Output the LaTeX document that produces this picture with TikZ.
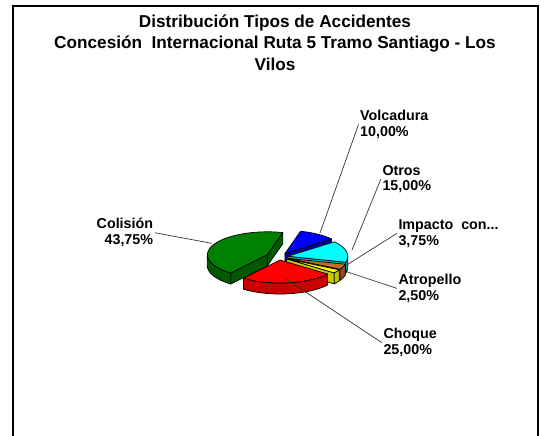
\documentclass[tikz,border=0pt]{standalone}
\usepackage{fontspec}
\setmainfont{Liberation Sans}
\definecolor{pblue}{RGB}{0,0,255}\definecolor{pblueS}{RGB}{0,0,165}
\definecolor{pcyan}{RGB}{0,255,255}\definecolor{pcyanS}{RGB}{0,185,185}
\definecolor{pbrown}{RGB}{205,105,40}\definecolor{pbrownS}{RGB}{150,75,25}
\definecolor{pyel}{RGB}{255,255,0}\definecolor{pyelS}{RGB}{200,200,0}
\definecolor{pred}{RGB}{255,0,0}\definecolor{predS}{RGB}{205,0,0}
\definecolor{pgreen}{RGB}{0,128,0}\definecolor{pgreenS}{RGB}{0,90,0}
\tikzset{
  lbl/.style={font=\bfseries\fontsize{14.3}{15.8}\selectfont,inner sep=1.5pt},
  leader/.style={draw=black!80,line width=0.7pt},
  face/.style={draw=black,line width=0.7pt,line join=round}
}
\begin{document}
\begin{tikzpicture}[x=1pt,y=1pt]
\useasboundingbox (0,0) rectangle (541,436);
    \draw[line width=1.8pt](13,0)--(13,430)--(538,430)--(538,0);
    \node[font=\bfseries\fontsize{17.2}{21.5}\selectfont,align=center](title) at (275,393.5)
      {Distribución Tipos de Accidentes\\Concesión\ \ Internacional Ruta 5 Tramo Santiago - Los\\Vilos};

% pie: start/end angle, explode, top colour, side colour
\def\rx{60}\def\ry{23}\def\dep{11}
\foreach \a/\b/\e/\ct/\cs in {39/75/11/pblue/pblueS,-15/39/9/pcyan/pcyanS,
    -285/-127.5/13/pgreen/pgreenS,-28.5/-15/9/pbrown/pbrownS,
    -37.5/-28.5/9/pyel/pyelS,-127.5/-37.5/8/pred/predS}{
  \pgfmathsetmacro\m{(\a+\b)/2}
  \pgfmathsetmacro\ey{0.383*\e}
  \path (279,179) ++(\m:\e pt and \ey pt) coordinate (o);
  \path (o) ++(\a:\rx pt and \ry pt) coordinate (pa);
  \path (o) ++(\b:\rx pt and \ry pt) coordinate (pb);
  \pgfmathtruncatemacro\va{sin(\a-90)<0}
  \pgfmathtruncatemacro\vb{sin(\b+90)<0}
  \ifnum\va=1 \filldraw[face,fill=\cs](o)--(pa)--([yshift=-\dep pt]pa)--([yshift=-\dep pt]o)--cycle;\fi
  \ifnum\vb=1 \filldraw[face,fill=\cs](o)--(pb)--([yshift=-\dep pt]pb)--([yshift=-\dep pt]o)--cycle;\fi
  \pgfmathsetmacro\lo{max(\a,-180)}
  \pgfmathsetmacro\hi{min(\b,0)}
  \pgfmathtruncatemacro\vo{\hi>\lo}
  \ifnum\vo=1 \filldraw[face,fill=\cs](o) ++(\lo:\rx pt and \ry pt)
      arc[start angle=\lo,end angle=\hi,x radius=\rx pt,y radius=\ry pt]--++(0,-\dep)
      arc[start angle=\hi,end angle=\lo,x radius=\rx pt,y radius=\ry pt]--cycle;\fi
  \filldraw[face,fill=\ct](o)--(pa)
      arc[start angle=\a,end angle=\b,x radius=\rx pt,y radius=\ry pt]--cycle;
}

% labels
    \node[lbl,anchor=north west,align=left](volc) at (358.5,327.5){Volcadura\\10,00\%};
    \node[lbl,anchor=north west,align=left](otros) at (380.8,272.5){Otros\\15,00\%};
    \node[lbl,anchor=north west,align=left](imp) at (396.8,218.2){Impacto\ \ con...\\3,75\%};
    \node[lbl,anchor=north west,align=left](atr) at (396.8,163.5){Atropello\\2,50\%};
    \node[lbl,anchor=north west,align=left](choq) at (381.8,109.2){Choque\\25,00\%};
    \node[lbl,anchor=north east,align=right](col) at (154.8,219.2){Colisión\\43,75\%};
    \coordinate (volc-end) at (320,203);
    \coordinate (otros-end) at (352,186);
    \coordinate (imp-end) at (346.7,171);
    \coordinate (atr-end) at (346.7,164.3);
    \coordinate (choq-end) at (285,157.7);
    \coordinate (col-end) at (211.7,192.7);
    \draw[leader](volc.west)--(volc-end);
    \draw[leader](otros.west)--(otros-end);
    \draw[leader](imp.west)--(imp-end);
    \draw[leader](atr.west)--(atr-end);
    \draw[leader](choq.west)--(choq-end);
    \draw[leader](col.east)--(col-end);
\end{tikzpicture}
\end{document}
